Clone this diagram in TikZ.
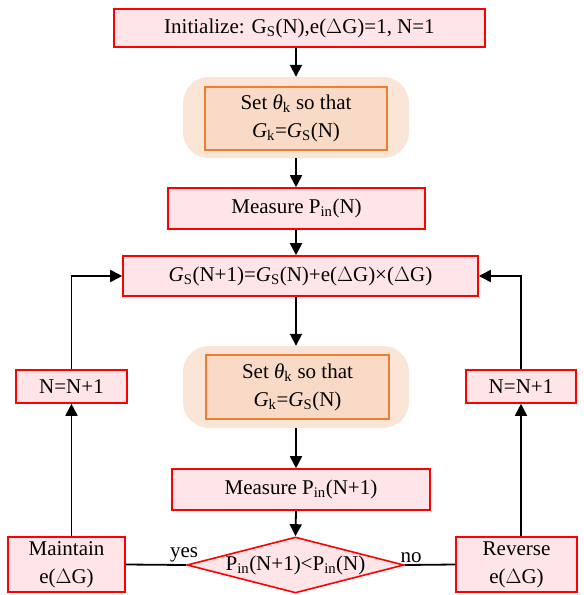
\documentclass[tikz,border=0pt]{standalone}
\usepackage{fontspec}
\setmainfont{Liberation Serif}
\usetikzlibrary{shapes.geometric,arrows.meta}
\definecolor{redb}{HTML}{FF0000}
\definecolor{pinkf}{HTML}{FFE5E8}
\definecolor{orb}{HTML}{ED7D31}
\definecolor{orf}{HTML}{F9DAC6}
\definecolor{bgf}{HTML}{FBE5D6}
\newcommand{\sbs}[1]{\textsubscript{#1}}
\begin{document}
\begin{tikzpicture}[x=1pt,y=-1pt,
  font=\rmfamily\fontsize{21}{28}\selectfont,
  rbox/.style={draw=redb,fill=pinkf,line width=1.6pt,inner sep=0pt,align=center},
  obox/.style={draw=orb,fill=orf,line width=1.6pt,inner sep=0pt,align=center},
  bgbox/.style={fill=bgf,rounded corners=26pt,inner sep=0pt},
  dia/.style={diamond,draw=redb,fill=pinkf,line width=1.6pt,inner sep=0pt,aspect=3.9,align=center},
  arr/.style={line width=1.8pt,-{Triangle[width=12pt,length=12pt]}},
  ln/.style={line width=1.8pt}]
\useasboundingbox (0,0) rectangle (584,595);
\node[rbox,minimum width=371pt,minimum height=38pt] (init) at (299.5,28) {Initialize: G\sbs{S}(N),e($\Delta$G)=1, N=1};
\node[bgbox,minimum width=226pt,minimum height=81pt] (bg1) at (296,117.5) {};
\node[obox,minimum width=182pt,minimum height=63pt] (in1) at (296,118.5) {Set \textit{θ}\sbs{k} so that\\\textit{G}\sbs{k}=\textit{G}\sbs{S}(N)};
\node[rbox,minimum width=257pt,minimum height=41pt] (m1) at (296.5,208.5) {Measure P\sbs{in}(N)};
\node[rbox,minimum width=355pt,minimum height=40pt] (g) at (300.5,276) {\textit{G}\sbs{S}(N+1)=\textit{G}\sbs{S}(N)+e($\Delta$G)×($\Delta$G)};
\node[bgbox,minimum width=226pt,minimum height=82pt] (bg2) at (296,387) {};
\node[obox,minimum width=183pt,minimum height=64pt] (in2) at (297.5,387) {Set \textit{θ}\sbs{k} so that\\\textit{G}\sbs{k}=\textit{G}\sbs{S}(N)};
\node[rbox,minimum width=258pt,minimum height=41pt] (m2) at (301,489.5) {Measure P\sbs{in}(N+1)};
\node[dia,minimum width=217pt,minimum height=56pt] (d) at (295.5,565) {P\sbs{in}(N+1)<P\sbs{in}(N)};
\node[rbox,minimum width=117pt,minimum height=55pt] (mt) at (66.5,564.5) {Maintain\\e($\Delta$G)};
\node[rbox,minimum width=121pt,minimum height=55pt] (rv) at (516.5,564.5) {Reverse\\e($\Delta$G)};
\node[rbox,minimum width=111pt,minimum height=33pt] (nl) at (71.5,386.5) {N=N+1};
\node[rbox,minimum width=110pt,minimum height=33pt] (nr) at (521,386.5) {N=N+1};
\draw[arr] (init.south -| bg1.north) -- (bg1.north);
\draw[arr] (bg1.south) -- (bg1.south |- m1.north);
\draw[arr] (m1.south -| bg1.south) -- (g.north -| bg1.south);
\draw[arr] (g.south -| bg1.south) -- (bg2.north);
\draw[arr] (bg2.south) -- (bg2.south |- m2.north);
\draw[arr] (m2.south -| bg2.south) -- (d.north);
\draw[ln] (mt.east) -- (d.west);
\draw[ln] (d.east) -- (rv.west);
\draw[arr] (mt.north -| nl.south) -- (nl.south);
\draw[arr] (rv.north -| nr.south) -- (nr.south);
\draw[arr] (nl.north) |- (g.west);
\draw[arr] (nr.north) |- (g.east);
\node[anchor=south] (yes) at (184,566) {yes};
\node[anchor=south] (no) at (411,566) {no};
\end{tikzpicture}
\end{document}
